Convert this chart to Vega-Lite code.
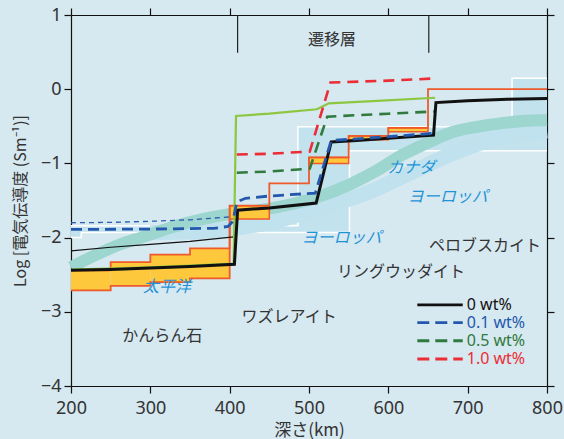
{
  "$schema": "https://vega.github.io/schema/vega-lite/v6.json",
  "width": 476,
  "height": 371,
  "autosize": {"type": "none"},
  "padding": {"left": 71, "top": 15, "right": 17, "bottom": 53},
  "background": "#d6e8f0",
  "config": {
    "view": {"stroke": null},
    "font": "Noto Sans CJK JP",
    "scale": {"continuousPadding": 0},
    "axis": {"domainColor": "#111", "tickColor": "#111", "labelColor": "#333", "titleColor": "#333", "grid": false, "labelFontSize": 18, "titleFontSize": 16, "titleFontWeight": "normal", "tickSize": 7, "domainWidth": 1.2, "tickWidth": 1.2, "labelFont": "Noto Sans", "titleFont": "Noto Sans CJK JP", "labelFlush": false, "labelOverlap": false}
  },
  "resolve": {"axis": {"x": "independent", "y": "independent"}},
  "datasets": {
    "europe": [
      {"d": 200, "lo": -2.0, "hi": -1.84},
      {"d": 213, "lo": -1.93, "hi": -1.84},
      {"d": 486, "lo": -1.93, "hi": -0.505},
      {"d": 551, "lo": -0.83, "hi": -0.505},
      {"d": 756, "lo": -0.83, "hi": 0.146},
      {"d": 800, "lo": -0.83, "hi": 0.146}
    ],
    "eurocurve": [
      {"d": 300, "v": -1.93}, {"d": 360, "v": -1.92}, {"d": 400, "v": -1.88}, {"d": 450, "v": -1.8}, {"d": 490, "v": -1.68},
      {"d": 530, "v": -1.55}, {"d": 573, "v": -1.4}, {"d": 620, "v": -1.17}, {"d": 678, "v": -0.88},
      {"d": 741, "v": -0.65}, {"d": 800, "v": -0.56}
    ],
    "canada": [
      {"d": 200, "v": -2.4}, {"d": 230, "v": -2.24}, {"d": 260, "v": -2.1}, {"d": 291, "v": -1.99},
      {"d": 330, "v": -1.85}, {"d": 362, "v": -1.76}, {"d": 396, "v": -1.69}, {"d": 450, "v": -1.61},
      {"d": 489, "v": -1.52}, {"d": 520, "v": -1.42}, {"d": 552, "v": -1.28}, {"d": 585, "v": -1.1},
      {"d": 615, "v": -0.9}, {"d": 650, "v": -0.72}, {"d": 680, "v": -0.58}, {"d": 710, "v": -0.51},
      {"d": 741, "v": -0.46}, {"d": 770, "v": -0.43}, {"d": 800, "v": -0.415}
    ],
    "olivine": [
      {"d1": 200, "d2": 250, "v1": -2.71, "v2": -2.44},
      {"d1": 250, "d2": 300, "v1": -2.65, "v2": -2.33},
      {"d1": 300, "d2": 350, "v1": -2.6, "v2": -2.23},
      {"d1": 350, "d2": 400, "v1": -2.55, "v2": -2.145}
    ],
    "tzboxes": [
      {"d1": 400, "d2": 450, "v1": -1.75, "v2": -1.57},
      {"d1": 500, "d2": 550, "v1": -1.0, "v2": -0.92},
      {"d1": 550, "d2": 600, "v1": -0.68, "v2": -0.63},
      {"d1": 600, "d2": 650, "v1": -0.575, "v2": -0.52}
    ],
    "upper": [
      {"d": 200, "v": -2.44}, {"d": 250, "v": -2.33}, {"d": 300, "v": -2.23}, {"d": 350, "v": -2.145},
      {"d": 400, "v": -1.57}, {"d": 450, "v": -1.27}, {"d": 500, "v": -0.92}, {"d": 550, "v": -0.63},
      {"d": 600, "v": -0.52}, {"d": 650, "v": 0.0}, {"d": 800, "v": 0.0}
    ],
    "lower": [
      {"d": 200, "v": -2.71}, {"d": 250, "v": -2.65}, {"d": 300, "v": -2.6}, {"d": 350, "v": -2.55}, {"d": 400, "v": -1.75}
    ],
    "black": [
      {"d": 200, "v": -2.44}, {"d": 250, "v": -2.43}, {"d": 300, "v": -2.41}, {"d": 350, "v": -2.39},
      {"d": 406, "v": -2.36}, {"d": 410, "v": -1.63}, {"d": 450, "v": -1.6}, {"d": 509, "v": -1.535},
      {"d": 528, "v": -0.71}, {"d": 560, "v": -0.69}, {"d": 600, "v": -0.66}, {"d": 657, "v": -0.62},
      {"d": 660, "v": -0.18}, {"d": 700, "v": -0.155}, {"d": 750, "v": -0.135}, {"d": 800, "v": -0.125}
    ],
    "thinblack": [
      {"d": 200, "v": -2.18}, {"d": 250, "v": -2.13}, {"d": 300, "v": -2.09}, {"d": 350, "v": -2.05}, {"d": 405, "v": -1.99}
    ],
    "blue": [
      {"d": 200, "v": -1.89}, {"d": 300, "v": -1.885}, {"d": 380, "v": -1.875}, {"d": 398, "v": -1.85},
      {"d": 404, "v": -1.78}, {"d": 409, "v": -1.52}, {"d": 420, "v": -1.47}, {"d": 450, "v": -1.44},
      {"d": 508, "v": -1.4}, {"d": 528, "v": -0.69}, {"d": 560, "v": -0.67}, {"d": 600, "v": -0.64}, {"d": 657, "v": -0.595}
    ],
    "thinblue": [
      {"d": 200, "v": -1.8}, {"d": 250, "v": -1.795}, {"d": 300, "v": -1.78}, {"d": 350, "v": -1.76}, {"d": 402, "v": -1.72}
    ],
    "lightgreen": [
      {"d": 200, "v": -2.43}, {"d": 300, "v": -2.4}, {"d": 405, "v": -2.35}, {"d": 408, "v": -0.36},
      {"d": 450, "v": -0.33}, {"d": 510, "v": -0.27}, {"d": 525, "v": -0.19}, {"d": 580, "v": -0.16}, {"d": 659, "v": -0.115}
    ],
    "darkgreen": [
      {"d": 409, "v": -1.125}, {"d": 450, "v": -1.11}, {"d": 501, "v": -1.07}, {"d": 523, "v": -0.37},
      {"d": 560, "v": -0.35}, {"d": 600, "v": -0.33}, {"d": 659, "v": -0.3}
    ],
    "red": [
      {"d": 409, "v": -0.88}, {"d": 450, "v": -0.87}, {"d": 501, "v": -0.84}, {"d": 527, "v": 0.09},
      {"d": 600, "v": 0.115}, {"d": 659, "v": 0.145}
    ],
    "bracket": [
      {"d": 410, "v1": 1, "v2": 0.49},
      {"d": 651, "v1": 1, "v2": 0.49}
    ],
    "darklabels": [
      {"t": "遷移層", "d": 529, "v": 0.66},
      {"t": "ペロブスカイト", "d": 722, "v": -2.11},
      {"t": "リングウッダイト", "d": 616, "v": -2.46},
      {"t": "ワズレアイト", "d": 475, "v": -3.07},
      {"t": "かんらん石", "d": 315, "v": -3.33}
    ],
    "bluelabels": [
      {"t": "カナダ", "d": 629, "v": -1.066},
      {"t": "ヨーロッパ", "d": 675, "v": -1.45},
      {"t": "ヨーロッパ", "d": 541, "v": -2.01},
      {"t": "太平洋", "d": 321, "v": -2.67}
    ],
    "legend": [
      {"s": "0 wt%", "x1": 636.5, "x2": 693.8, "v": -2.908},
      {"s": "0.1 wt%", "x1": 636.5, "x2": 693.8, "v": -3.147},
      {"s": "0.5 wt%", "x1": 636.5, "x2": 693.8, "v": -3.39},
      {"s": "1.0 wt%", "x1": 636.5, "x2": 693.8, "v": -3.636}
    ]
  },
  "layer": [
    {
      "data": {"name": "europe"},
      "mark": {"type": "area", "interpolate": "step-after", "color": "#c2e2ee"},
      "encoding": {
        "x": {"field": "d", "type": "quantitative", "scale": {"domain": [200, 800], "nice": false, "zero": false, "padding": 0},
              "axis": {"orient": "bottom", "values": [200, 300, 400, 500, 600, 700, 800], "title": "深さ(km)", "labelPadding": 6, "titlePadding": 5, "titleFontSize": 17}},
        "y": {"field": "lo", "type": "quantitative", "scale": {"domain": [-4, 1], "nice": false, "zero": false, "padding": 0},
              "axis": {"orient": "left", "values": [-4, -3, -2, -1, 0, 1], "title": "Log [電気伝導度 (Sm⁻¹)]", "labelPadding": 3, "titlePadding": 12}},
        "y2": {"field": "hi"}
      }
    },
    {
      "data": {"name": "europe"},
      "mark": {"type": "line", "interpolate": "step-after", "color": "#ffffff", "strokeWidth": 1.5},
      "encoding": {
        "x": {"field": "d", "type": "quantitative", "axis": {"orient": "top", "values": [200, 300, 400, 500, 600, 700, 800], "labels": false, "title": null}},
        "y": {"field": "lo", "type": "quantitative", "axis": {"orient": "right", "values": [-4, -3, -2, -1, 0, 1], "labels": false, "title": null}}
      }
    },
    {
      "data": {"name": "europe"},
      "mark": {"type": "line", "interpolate": "step-after", "color": "#ffffff", "strokeWidth": 1.5},
      "encoding": {
        "x": {"field": "d", "type": "quantitative", "axis": null},
        "y": {"field": "hi", "type": "quantitative", "axis": null}
      }
    },
    {
      "data": {"name": "eurocurve"},
      "mark": {"type": "line", "interpolate": "monotone", "color": "#bfe2ee", "strokeWidth": 15, "strokeCap": "butt"},
      "encoding": {
        "x": {"field": "d", "type": "quantitative", "axis": null},
        "y": {"field": "v", "type": "quantitative", "axis": null}
      }
    },
    {
      "data": {"name": "canada"},
      "mark": {"type": "line", "interpolate": "monotone", "color": "#9dd5cf", "strokeWidth": 12, "strokeCap": "butt"},
      "encoding": {
        "x": {"field": "d", "type": "quantitative", "axis": null},
        "y": {"field": "v", "type": "quantitative", "axis": null}
      }
    },
    {
      "data": {"name": "olivine"},
      "mark": {"type": "rect", "color": "#fdc83c"},
      "encoding": {
        "x": {"field": "d1", "type": "quantitative", "axis": null},
        "x2": {"field": "d2"},
        "y": {"field": "v1", "type": "quantitative", "axis": null},
        "y2": {"field": "v2"}
      }
    },
    {
      "data": {"name": "tzboxes"},
      "mark": {"type": "rect", "fill": "#fdc83c", "stroke": "#ef5a2a", "strokeWidth": 1.5},
      "encoding": {
        "x": {"field": "d1", "type": "quantitative", "axis": null},
        "x2": {"field": "d2"},
        "y": {"field": "v1", "type": "quantitative", "axis": null},
        "y2": {"field": "v2"}
      }
    },
    {
      "data": {"name": "upper"},
      "mark": {"type": "line", "interpolate": "step-after", "color": "#ef5a2a", "strokeWidth": 1.8},
      "encoding": {
        "x": {"field": "d", "type": "quantitative", "axis": null},
        "y": {"field": "v", "type": "quantitative", "axis": null}
      }
    },
    {
      "data": {"name": "lower"},
      "mark": {"type": "line", "interpolate": "step-after", "color": "#ef5a2a", "strokeWidth": 1.8},
      "encoding": {
        "x": {"field": "d", "type": "quantitative", "axis": null},
        "y": {"field": "v", "type": "quantitative", "axis": null}
      }
    },
    {
      "data": {"name": "thinblack"},
      "mark": {"type": "line", "color": "#111111", "strokeWidth": 1.2},
      "encoding": {
        "x": {"field": "d", "type": "quantitative", "axis": null},
        "y": {"field": "v", "type": "quantitative", "axis": null}
      }
    },
    {
      "data": {"name": "thinblue"},
      "mark": {"type": "line", "color": "#2a5fb0", "strokeWidth": 1.3, "strokeDash": [5, 4]},
      "encoding": {
        "x": {"field": "d", "type": "quantitative", "axis": null},
        "y": {"field": "v", "type": "quantitative", "axis": null}
      }
    },
    {
      "data": {"name": "lightgreen"},
      "mark": {"type": "line", "color": "#8dc63f", "strokeWidth": 2.2},
      "encoding": {
        "x": {"field": "d", "type": "quantitative", "axis": null},
        "y": {"field": "v", "type": "quantitative", "axis": null}
      }
    },
    {
      "data": {"name": "darkgreen"},
      "mark": {"type": "line", "color": "#2f7a3c", "strokeWidth": 2.6, "strokeDash": [11, 7]},
      "encoding": {
        "x": {"field": "d", "type": "quantitative", "axis": null},
        "y": {"field": "v", "type": "quantitative", "axis": null}
      }
    },
    {
      "data": {"name": "red"},
      "mark": {"type": "line", "color": "#ec2d35", "strokeWidth": 2.6, "strokeDash": [11, 7]},
      "encoding": {
        "x": {"field": "d", "type": "quantitative", "axis": null},
        "y": {"field": "v", "type": "quantitative", "axis": null}
      }
    },
    {
      "data": {"name": "black"},
      "mark": {"type": "line", "color": "#111111", "strokeWidth": 3},
      "encoding": {
        "x": {"field": "d", "type": "quantitative", "axis": null},
        "y": {"field": "v", "type": "quantitative", "axis": null}
      }
    },
    {
      "data": {"name": "blue"},
      "mark": {"type": "line", "color": "#2458ad", "strokeWidth": 2.8, "strokeDash": [11, 6]},
      "encoding": {
        "x": {"field": "d", "type": "quantitative", "axis": null},
        "y": {"field": "v", "type": "quantitative", "axis": null}
      }
    },
    {
      "data": {"name": "bracket"},
      "mark": {"type": "rule", "color": "#222222", "strokeWidth": 1.2},
      "encoding": {
        "x": {"field": "d", "type": "quantitative", "axis": null},
        "y": {"field": "v1", "type": "quantitative", "axis": null},
        "y2": {"field": "v2"}
      }
    },
    {
      "data": {"name": "darklabels"},
      "mark": {"type": "text", "color": "#333333", "fontSize": 16, "font": "Noto Sans CJK JP", "align": "center", "baseline": "middle"},
      "encoding": {
        "x": {"field": "d", "type": "quantitative", "axis": null},
        "y": {"field": "v", "type": "quantitative", "axis": null},
        "text": {"field": "t"}
      }
    },
    {
      "data": {"name": "bluelabels"},
      "mark": {"type": "text", "color": "#1f93d6", "fontSize": 16, "font": "Noto Sans CJK JP", "fontStyle": "italic", "align": "center", "baseline": "middle"},
      "encoding": {
        "x": {"field": "d", "type": "quantitative", "axis": null},
        "y": {"field": "v", "type": "quantitative", "axis": null},
        "text": {"field": "t"}
      }
    },
    {
      "data": {"name": "legend"},
      "mark": {"type": "rule", "strokeWidth": 2.8},
      "encoding": {
        "x": {"field": "x1", "type": "quantitative", "axis": null},
        "x2": {"field": "x2"},
        "y": {"field": "v", "type": "quantitative", "axis": null},
        "color": {"field": "s", "type": "nominal", "legend": null,
                  "scale": {"domain": ["0 wt%", "0.1 wt%", "0.5 wt%", "1.0 wt%"], "range": ["#111111", "#2458ad", "#2f7a3c", "#ec2d35"]}},
        "strokeDash": {"field": "s", "type": "nominal", "legend": null,
                       "scale": {"domain": ["0 wt%", "0.1 wt%", "0.5 wt%", "1.0 wt%"], "range": [[1, 0], [12, 6], [12, 6], [12, 6]]}}
      }
    },
    {
      "data": {"name": "legend"},
      "mark": {"type": "text", "fontSize": 16, "font": "Noto Sans", "align": "left", "baseline": "middle", "dx": 4},
      "encoding": {
        "x": {"field": "x2", "type": "quantitative", "axis": null},
        "y": {"field": "v", "type": "quantitative", "axis": null},
        "text": {"field": "s"},
        "color": {"field": "s", "type": "nominal", "legend": null,
                  "scale": {"domain": ["0 wt%", "0.1 wt%", "0.5 wt%", "1.0 wt%"], "range": ["#222222", "#2e64b4", "#3a7d44", "#e8383d"]}}
      }
    }
  ]
}
